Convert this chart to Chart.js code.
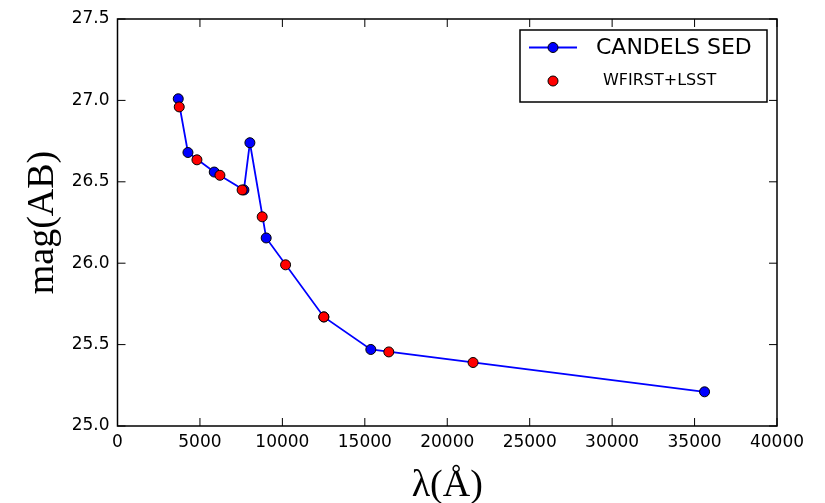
<!DOCTYPE html>
<html>
<head>
<meta charset="utf-8">
<script src="https://cdn.jsdelivr.net/npm/chart.js@4.4.0/dist/chart.umd.min.js"></script>
<style>
  html, body { margin: 0; padding: 0; background: #fff; }
</style>
</head>
<body>
<canvas id="sedChart" width="825" height="503"></canvas>
<script>
// wavelength (Angstrom) and AB magnitude of each band
const candelsWave = [3685, 4273, 5867, 7667, 8030, 9018, 12515, 15364, 35606];
const candelsMag = [27.01, 26.68, 26.56, 26.45, 26.74, 26.155, 25.67, 25.47, 25.21];
const wfirstWave = [3745, 4818, 6212, 7558, 8776, 10194, 12515, 16455, 21565];
const wfirstMag = [26.96, 26.635, 26.54, 26.45, 26.285, 25.99, 25.67, 25.455, 25.39];

const waveTicks = [0, 5000, 10000, 15000, 20000, 25000, 30000, 35000, 40000];
const magTicks = [25.0, 25.5, 26.0, 26.5, 27.0, 27.5];

const toPoints = (xs, ys) => xs.map((v, i) => ({ x: v, y: ys[i] }));

// spines on all four sides with inward tick marks
const frameTicks = {
    id: 'frameTicks',
    afterDraw(chart) {
        const { ctx, chartArea: a, scales: { x, y } } = chart;
        const len = 8;
        ctx.save();
        ctx.strokeStyle = '#000';
        ctx.lineWidth = 1;
        ctx.beginPath();
        waveTicks.forEach(v => {
            const px = x.getPixelForValue(v);
            ctx.moveTo(px, a.bottom); ctx.lineTo(px, a.bottom - len);
            ctx.moveTo(px, a.top); ctx.lineTo(px, a.top + len);
        });
        magTicks.forEach(v => {
            const py = y.getPixelForValue(v);
            ctx.moveTo(a.left, py); ctx.lineTo(a.left + len, py);
            ctx.moveTo(a.right, py); ctx.lineTo(a.right - len, py);
        });
        ctx.stroke();
        ctx.lineWidth = 1.5;
        ctx.strokeRect(a.left, a.top, a.right - a.left, a.bottom - a.top);
        ctx.restore();
    }
};

// boxed legend in the upper right corner
const sedLegend = {
    id: 'sedLegend',
    afterDraw(chart) {
        const ctx = chart.ctx;
        const box = { x: 520, y: 30, w: 247, h: 72 };
        ctx.save();
        ctx.fillStyle = '#fff';
        ctx.fillRect(box.x, box.y, box.w, box.h);
        ctx.strokeStyle = '#000';
        ctx.lineWidth = 1.5;
        ctx.strokeRect(box.x, box.y, box.w, box.h);

        // CANDELS entry: line with marker
        ctx.strokeStyle = '#0000ff';
        ctx.lineWidth = 1.8;
        ctx.beginPath();
        ctx.moveTo(529, 47.5);
        ctx.lineTo(577, 47.5);
        ctx.stroke();
        ctx.beginPath();
        ctx.arc(553, 47.5, 5, 0, Math.PI * 2);
        ctx.fillStyle = '#0000ff';
        ctx.fill();
        ctx.strokeStyle = '#000';
        ctx.lineWidth = 1;
        ctx.stroke();

        // WFIRST entry: marker only
        ctx.beginPath();
        ctx.arc(553, 81, 5, 0, Math.PI * 2);
        ctx.fillStyle = '#ff0000';
        ctx.fill();
        ctx.stroke();

        ctx.fillStyle = '#000';
        ctx.textBaseline = 'middle';
        ctx.font = '22px "DejaVu Sans"';
        ctx.fillText('CANDELS SED', 596, 48);
        ctx.font = '16px "DejaVu Sans"';
        ctx.fillText('WFIRST+LSST', 603, 81);
        ctx.restore();
    }
};

const tickFont = { family: 'DejaVu Sans', size: 17 };
const titleFont = { family: 'Liberation Serif', size: 38, lineHeight: 1 };

new Chart(document.getElementById('sedChart'), {
    type: 'scatter',
    data: {
        datasets: [{
            label: 'WFIRST+LSST',
            data: toPoints(wfirstWave, wfirstMag),
            showLine: false,
            pointRadius: 5,
            pointBackgroundColor: '#ff0000',
            pointBorderColor: '#000',
            pointBorderWidth: 1,
            order: 0
        }, {
            label: 'CANDELS SED',
            data: toPoints(candelsWave, candelsMag),
            showLine: true,
            borderColor: '#0000ff',
            borderWidth: 1.8,
            pointRadius: 5,
            pointBackgroundColor: '#0000ff',
            pointBorderColor: '#000',
            pointBorderWidth: 1,
            order: 1
        }]
    },
    options: {
        responsive: false,
        animation: false,
        devicePixelRatio: 1,
        layout: {
            padding: { top: 19, right: 48, left: 0, bottom: 0 }
        },
        plugins: {
            legend: { display: false },
            tooltip: { enabled: false }
        },
        scales: {
            x: {
                type: 'linear',
                min: 0,
                max: 40000,
                afterFit: s => { s.height = 77; },
                afterBuildTicks: s => { s.ticks = waveTicks.map(v => ({ value: v })); },
                grid: { display: false, drawTicks: false },
                border: { display: false },
                ticks: {
                    color: '#000',
                    font: tickFont,
                    padding: 6,
                    maxRotation: 0,
                    callback: v => String(v)
                },
                title: {
                    display: true,
                    text: 'λ(Å)',
                    color: '#000',
                    font: titleFont,
                    padding: { top: 0, bottom: -2 }
                }
            },
            y: {
                type: 'linear',
                min: 25,
                max: 27.5,
                afterFit: s => { s.width = 117.5; },
                afterBuildTicks: s => { s.ticks = magTicks.map(v => ({ value: v })); },
                grid: { display: false, drawTicks: false },
                border: { display: false },
                ticks: {
                    color: '#000',
                    font: tickFont,
                    padding: 8,
                    callback: v => v.toFixed(1)
                },
                title: {
                    display: true,
                    text: 'mag(AB)',
                    color: '#000',
                    font: titleFont,
                    padding: { top: 24, bottom: 0 }
                }
            }
        }
    },
    plugins: [frameTicks, sedLegend]
});
</script>
</body>
</html>
